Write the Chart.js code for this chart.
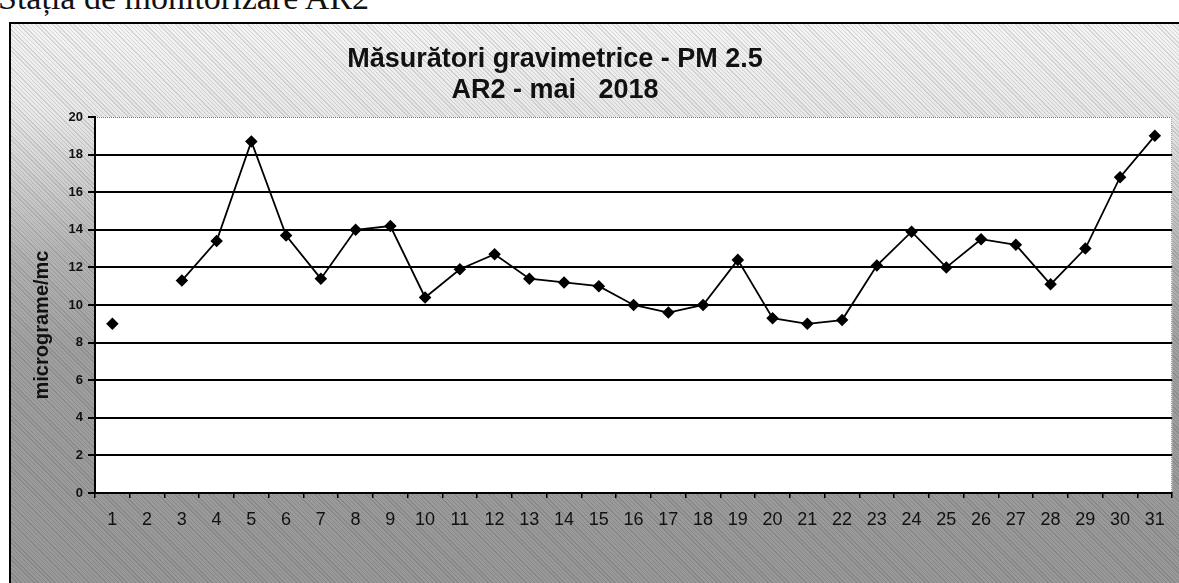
<!DOCTYPE html>
<html>
<head>
<meta charset="utf-8">
<script src="https://cdn.jsdelivr.net/npm/chart.js@4.4.1/dist/chart.umd.min.js"></script>
<style>
  html, body { margin: 0; padding: 0; width: 1179px; height: 583px; overflow: hidden; background: #fff; }
  #heading {
    position: absolute; left: -2px; top: -19px;
    font: 34px "Liberation Serif", "Times New Roman", serif;
    line-height: 34px; white-space: nowrap; color: #111;
  }
  #frame {
    position: absolute; left: 9px; top: 22px; width: 1200px; height: 600px;
    border-left: 2px solid #000; border-top: 2px solid #000;
    background:
      repeating-linear-gradient(45deg, rgba(0,0,0,0.12) 0 1px, rgba(0,0,0,0) 1px 3px),
      linear-gradient(to bottom, #f4f4f4 0px, #e8e8e8 90px, #b4b4b4 230px, #a0a0a0 330px, #979797 100%);
  }
  #chart { position: absolute; left: 0; top: 0; }
</style>
</head>
<body>
<div id="heading">Stația de monitorizare AR2</div>
<div id="frame">
  <canvas id="chart" width="1168" height="559"></canvas>
</div>
<script>
// daily PM 2.5 gravimetric values, AR2, May 2018 (day 2 missing)
const days = ['1','2','3','4','5','6','7','8','9','10','11','12','13','14','15','16',
              '17','18','19','20','21','22','23','24','25','26','27','28','29','30','31'];
const pm25 = [9.0, null, 11.3, 13.4, 18.7, 13.7, 11.4, 14.0, 14.2, 10.4, 11.9, 12.7, 11.4, 11.2, 11.0, 10.0,
              9.6, 10.0, 12.4, 9.3, 9.0, 9.2, 12.1, 13.9, 12.0, 13.5, 13.2, 11.1, 13.0, 16.8, 19.0];
const titleLines = ['Măsurători gravimetrice - PM 2.5', 'AR2 - mai   2018'];
const yTitle = 'micrograme/mc';

const SANS = '"Liberation Sans", Arial, sans-serif';

// white plot area with the dotted excel border, plus the titles
const decor = {
  id: 'decor',
  beforeDraw(chart) {
    const { ctx, chartArea: a } = chart;
    ctx.save();
    ctx.fillStyle = '#fff';
    ctx.fillRect(a.left, a.top, a.right - a.left, a.bottom - a.top);
    ctx.strokeStyle = '#777';
    ctx.lineWidth = 1;
    ctx.setLineDash([1, 1]);
    ctx.beginPath();
    ctx.moveTo(a.left, a.top + 0.5);
    ctx.lineTo(a.right - 0.5, a.top + 0.5);
    ctx.lineTo(a.right - 0.5, a.bottom);
    ctx.stroke();
    ctx.restore();
  },
  afterDraw(chart) {
    const ctx = chart.ctx;
    ctx.save();
    ctx.fillStyle = '#111';
    ctx.font = 'bold 27px ' + SANS;
    ctx.textAlign = 'center';
    ctx.textBaseline = 'alphabetic';
    ctx.fillText(titleLines[0], 544, 43);
    ctx.fillText(titleLines[1], 544, 74);

    ctx.translate(31, 301);
    ctx.rotate(-Math.PI / 2);
    ctx.font = 'bold 20px ' + SANS;
    ctx.textBaseline = 'middle';
    ctx.fillText(yTitle, 0, 0);
    ctx.restore();
  }
};

const ctx = document.getElementById('chart');
const chart = new Chart(ctx, {
  type: 'line',
  data: {
    labels: days,
    datasets: [{
      data: pm25,
      borderColor: '#000',
      borderWidth: 1.8,
      pointStyle: 'rectRot',
      pointRadius: 5,
      pointBackgroundColor: '#000',
      pointBorderColor: '#000',
      tension: 0,
      spanGaps: false
    }]
  },
  options: {
    responsive: false,
    devicePixelRatio: 1,
    animation: false,
    layout: { padding: { top: 93, right: 2, left: 0, bottom: 0 } },
    plugins: { legend: { display: false }, title: { display: false }, tooltip: { enabled: false } },
    scales: {
      x: {
        offset: true,
        afterFit: (s) => { s.height = 90 },
        grid: { offset: true, drawOnChartArea: false, color: '#000', lineWidth: 1.5, tickLength: 5 },
        border: { color: '#000', width: 2 },
        ticks: { autoSkip: false, maxRotation: 0, padding: 11, color: '#111', font: { family: SANS, size: 18 } }
      },
      y: {
        min: 0,
        max: 20,
        afterFit: (s) => { s.width = 84 },
        grid: {
          color: (c) => (c.tick && c.tick.value === 20) ? 'rgba(0,0,0,0)' : '#000',
          tickColor: '#000',
          lineWidth: 2,
          tickLength: 7
        },
        border: { color: '#000', width: 2 },
        ticks: { stepSize: 2, padding: 5, color: '#111', font: { family: SANS, size: 13, weight: 'bold' } }
      }
    }
  },
  plugins: [decor]
});
</script>
</body>
</html>
